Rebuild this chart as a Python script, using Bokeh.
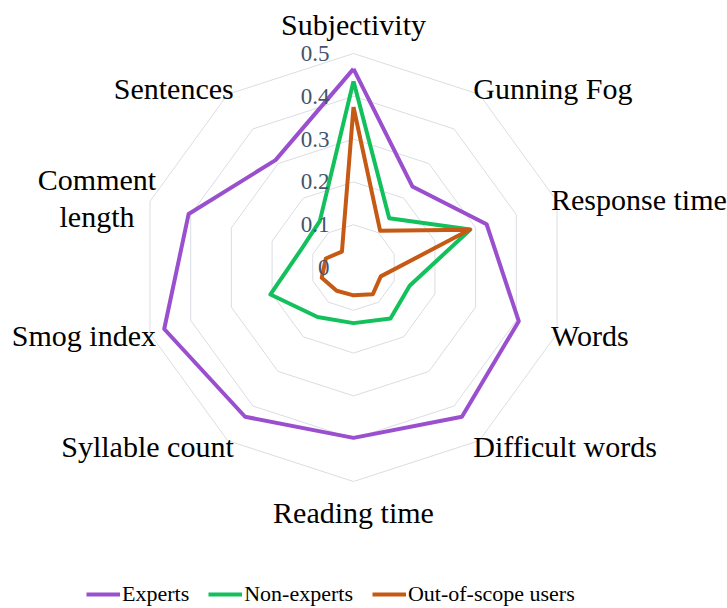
import math
from bokeh.plotting import figure
from bokeh.models import Range1d, Legend, LegendItem, ColumnDataSource
from bokeh.core.properties import value
from bokeh.embed import file_html
from bokeh.resources import INLINE

# ---- data ----
categories = ["Subjectivity", "Gunning Fog", "Response time", "Words", "Difficult words",
              "Reading time", "Syllable count", "Smog index", "Comment\nlength", "Sentences"]
experts = [0.464, 0.234, 0.327, 0.406, 0.431, 0.398, 0.431, 0.465, 0.405, 0.310]
non_experts = [0.435, 0.142, 0.287, 0.138, 0.147, 0.130, 0.143, 0.204, 0.130, 0.134]
out_of_scope = [0.375, 0.106, 0.285, 0.067, 0.077, 0.065, 0.067, 0.078, 0.068, 0.046]
series_names = ["Experts", "Non-experts", "Out-of-scope users"]
radial_ticks = [0, 0.1, 0.2, 0.3, 0.4, 0.5]
tick_labels = ["0", "0.1", "0.2", "0.3", "0.4", "0.5"]

# ---- layout ----
W, H = 727, 608
CX, CY = 353, 267          # centre in frame px
SCALE = 428.0              # px per unit
FONT = "Liberation Serif"
colors = ["#9A4FCF", "#12C05C", "#C65A14"]

p = figure(width=W, height=H, output_backend="svg", toolbar_location=None,
           x_range=Range1d(-CX / SCALE, (W - CX) / SCALE),
           y_range=Range1d(-(H - CY) / SCALE, CY / SCALE),
           x_axis_type=None, y_axis_type=None, min_border=0,
           outline_line_color=None)
p.grid.visible = False

n = len(categories)
angles = [math.radians(90 - 360.0 * i / n) for i in range(n)]

def polar(vals):
    xs = [v * math.cos(a) for v, a in zip(vals, angles)]
    ys = [v * math.sin(a) for v, a in zip(vals, angles)]
    return xs + xs[:1], ys + ys[:1]

# grid rings
rx, ry = [], []
for t in radial_ticks[1:]:
    xs, ys = polar([t] * n)
    rx.append(xs); ry.append(ys)
p.multi_line(rx, ry, line_color="#DADDE3", line_width=1)

# series
renderers = []
for vals, col in zip([experts, non_experts, out_of_scope], colors):
    xs, ys = polar(vals)
    r = p.line(xs, ys, line_color=col, line_width=4, line_join="round")
    renderers.append(r)

# radial tick labels
p.text(x=[0] * len(radial_ticks), y=radial_ticks, text=tick_labels,
       x_offset=-24, text_align="right", text_baseline="middle",
       text_font=value(FONT), text_font_size="23px", text_color="#44546A")

# category labels
R = radial_ticks[-1]
lx, ly, lt, la, xo, yo = [], [], [], [], [], []
for cat, a in zip(categories, angles):
    c, s = math.cos(a), math.sin(a)
    lx.append(R * c); ly.append(R * s); lt.append(cat)
    if abs(c) < 0.1:
        la.append("center"); xo.append(0); yo.append(-29 if s > 0 else 31)
    elif "\n" in cat:
        la.append("center"); xo.append(-53); yo.append(-3)
    else:
        la.append("left" if c > 0 else "right")
        xo.append(-6 if c > 0 else 6)
        yo.append(-s * 7)
src = ColumnDataSource(dict(x=lx, y=ly, t=lt, a=la, xo=xo, yo=yo))
p.text(x="x", y="y", text="t", text_align="a", x_offset="xo", y_offset="yo",
       source=src, text_baseline="middle", text_font=value(FONT),
       text_font_size="30px", text_color="black", text_line_height=1.12)

legend = Legend(items=[LegendItem(label=nm, renderers=[r]) for nm, r in zip(series_names, renderers)],
                orientation="horizontal", location=(86, 1),
                glyph_width=34, glyph_height=20, label_standoff=2, spacing=19,
                padding=0, margin=0, border_line_color=None, background_fill_alpha=0,
                label_text_font=FONT, label_text_font_size="22px", label_text_color="black")
p.add_layout(legend, "center")

open("out.html", "w").write(file_html(p, INLINE))
